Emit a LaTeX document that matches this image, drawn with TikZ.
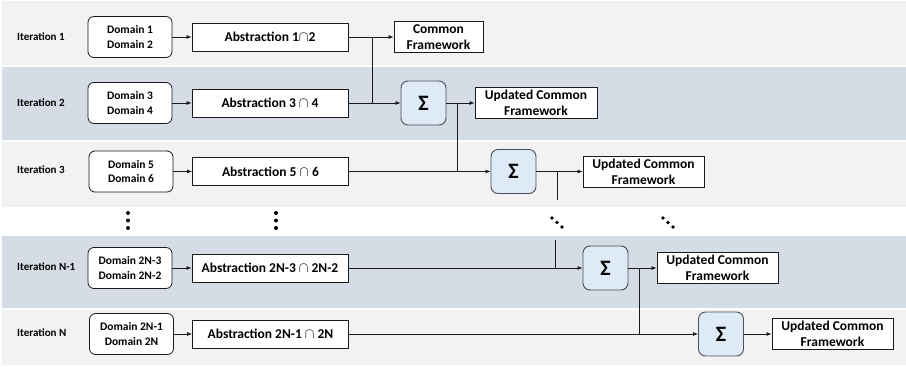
\documentclass[tikz,border=0pt]{standalone}
\usepackage{fontspec}
\setmainfont{Carlito}
\usetikzlibrary{arrows.meta}

\definecolor{bandgray}{HTML}{F2F2F2}
\definecolor{bandblue}{HTML}{D6DCE5}
\definecolor{sumfill}{HTML}{DEEAF6}
\definecolor{sumedge}{HTML}{4A4F57}
\definecolor{ink}{HTML}{1A1A1A}

\tikzset{
  band/.style={fill=#1, draw=none},
  iterlabel/.style={anchor=west, inner sep=0pt, font=\bfseries\fontsize{11}{13}\selectfont},
  domainbox/.style={draw=ink, fill=white, line width=0.8pt, rounded corners=6pt,
    minimum width=84pt, minimum height=41pt, inner sep=0pt, align=center,
    font=\bfseries\fontsize{11.5}{14.5}\selectfont},
  absbox/.style={draw=ink, fill=white, line width=0.8pt, minimum width=156pt,
    minimum height=28pt, inner sep=0pt, font=\bfseries\fontsize{13.5}{16}\selectfont},
  cfbox/.style={draw=ink, fill=white, line width=0.8pt, minimum width=#1,
    minimum height=31pt, inner sep=0pt, align=center,
    font=\bfseries\fontsize{13.5}{16}\selectfont},
  sumbox/.style={draw=sumedge, fill=sumfill, line width=0.9pt, rounded corners=7pt,
    minimum width=45pt, minimum height=44pt, inner sep=0pt,
    font=\bfseries\fontsize{22}{22}\selectfont},
  flow/.style={draw=ink, line width=0.75pt, -{Latex[length=5pt,width=4pt]}},
  joinline/.style={draw=ink, line width=0.75pt},
  dotmark/.style={fill=black}
}

\begin{document}
\begin{tikzpicture}[x=1pt, y=-1pt]
  \useasboundingbox (0,0) rectangle (906,367);

  % background bands, one per iteration row
  \fill[band=bandgray] (2,1)   rectangle (906,65);
  \fill[band=bandblue] (2,67)  rectangle (906,140);
  \fill[band=bandgray] (2,142) rectangle (906,207);
  \fill[band=bandblue] (2,236) rectangle (906,308);
  \fill[band=bandgray] (2,310) rectangle (906,365);

  % row labels
  \node[iterlabel] (it1) at (17,37)  {Iteration 1};
  \node[iterlabel] (it2) at (17,103) {Iteration 2};
  \node[iterlabel] (it3) at (17,170) {Iteration 3};
  \node[iterlabel] (it4) at (17,267) {Iteration N-1};
  \node[iterlabel] (it5) at (17,333) {Iteration N};

  % domain pairs
  \node[domainbox] (d1) at (130,37)    {Domain 1\\Domain 2};
  \node[domainbox] (d2) at (130,103)   {Domain 3\\Domain 4};
  \node[domainbox] (d3) at (131,171.5) {Domain 5\\Domain 6};
  \node[domainbox] (d4) at (130,268)   {Domain 2N-3\\Domain 2N-2};
  \node[domainbox] (d5) at (131.5,334) {Domain 2N-1\\Domain 2N};

  % abstractions
  \node[absbox] (a1) at (270,37)    {Abstraction 1$\cap$2};
  \node[absbox] (a2) at (270,103)   {Abstraction 3 $\cap$ 4};
  \node[absbox] (a3) at (270.5,171.5) {Abstraction 5 $\cap$ 6};
  \node[absbox] (a4) at (270,268)   {Abstraction 2N-3 $\cap$ 2N-2};
  \node[absbox] (a5) at (270.5,334) {Abstraction 2N-1 $\cap$ 2N};

  % summation steps
  \node[sumbox] (s1) at (423.5,103)   {Σ};
  \node[sumbox] (s2) at (513.5,171.5) {Σ};
  \node[sumbox] (s3) at (605.5,268)   {Σ};
  \node[sumbox] (s4) at (721,334)     {Σ};

  % frameworks
  \node[cfbox=89pt]  (cf) at (438.5,37)    {Common\\Framework};
  \node[cfbox=122pt] (u1) at (536,103)     {Updated Common\\Framework};
  \node[cfbox=121pt] (u2) at (643.5,171.5) {Updated Common\\Framework};
  \node[cfbox=121pt] (u3) at (717.5,268)   {Updated Common\\Framework};
  \node[cfbox=121pt] (u4) at (832.5,334)   {Updated Common\\Framework};

  % junction points on the feed-down lines
  \coordinate (j1a) at (372,37);
  \coordinate (j1b) at (372,103);
  \coordinate (j2a) at (457,103);
  \coordinate (j2b) at (457,171.5);
  \coordinate (j3a) at (557,171.5);
  \coordinate (j3b) at (557,200);
  \coordinate (j4a) at (555,240);
  \coordinate (j4b) at (555,268);
  \coordinate (j5a) at (639,268);
  \coordinate (j5b) at (639,334);

  % row flows
  \draw[flow] (d1) -- (a1);
  \draw[flow] (a1) -- (cf);
  \draw[flow] (d2) -- (a2);
  \draw[flow] (a2) -- (s1);
  \draw[flow] (s1) -- (u1);
  \draw[flow] (d3) -- (a3);
  \draw[flow] (a3) -- (s2);
  \draw[flow] (s2) -- (u2);
  \draw[flow] (d4) -- (a4);
  \draw[flow] (a4) -- (s3);
  \draw[flow] (s3) -- (u3);
  \draw[flow] (d5) -- (a5);
  \draw[flow] (a5) -- (s4);
  \draw[flow] (s4) -- (u4);

  % results carried into the next row
  \draw[joinline] (j1a) -- (j1b);
  \draw[joinline] (j2a) -- (j2b);
  \draw[joinline] (j3a) -- (j3b);
  \draw[joinline] (j4a) -- (j4b);
  \draw[joinline] (j5a) -- (j5b);

  % ellipsis marks for the omitted iterations
  \foreach \yy in {213,220.5,228} {
    \fill[dotmark] (128,\yy) circle (2pt);
    \fill[dotmark] (276,\yy) circle (2pt);
  }
  \foreach \dx/\dy in {0/0,5/4.5,10/9} {
    \fill[dotmark] (552+\dx,218+\dy) circle (1.9pt);
    \fill[dotmark] (663+\dx,218+\dy) circle (1.9pt);
  }
\end{tikzpicture}
\end{document}
